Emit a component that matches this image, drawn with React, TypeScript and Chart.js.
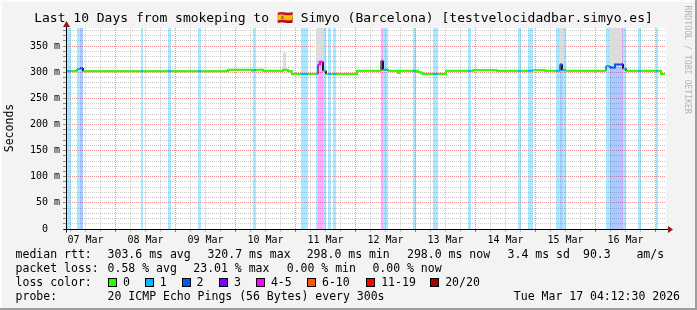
import React, { useEffect, useRef } from "react";
import { Chart, registerables } from "chart.js";

Chart.register(...registerables);

// ---------- texts ----------
const titleText =
  "Last 10 Days from smokeping to \u{1F1EA}\u{1F1F8} Simyo (Barcelona) [testvelocidadbar.simyo.es]";
const yAxisTitle = "Seconds";
const watermarkText = "RRDTOOL / TOBI OETIKER";

// ---------- x axis: hours since Tue Mar 07 04:12:30 ----------
const dayLabels = ["07 Mar", "08 Mar", "09 Mar", "10 Mar", "11 Mar", "12 Mar", "13 Mar", "14 Mar", "15 Mar", "16 Mar"];
const spanHours = 240;
const firstMidnightHour = 19.79;
const gridStepHours = 6;

// ---------- y axis (ms) ----------
const yMax = 384.84;
const yMinorStep = 10;
const yMajorStep = 50;

// ---------- median rtt runs (start hour, value ms, loss class index) ----------
const runStart = [
  0, 2.0, 4.4, 5.6, 6.8, 30.0, 30.8, 40.8, 42.0, 52.8,
  54.0, 64.8, 74.4, 74.8, 76.0, 78.8, 86.8, 88.8, 90.4, 94.0,
  96.8, 100.0, 100.8, 101.6, 102.8, 104.0, 104.8, 106.0, 106.8, 108.0,
  116.4, 126.0, 126.8, 128.8, 132.8, 133.6, 138.8, 140.0, 140.8, 142.0,
  142.8, 146.8, 148.8, 152.0, 160.8, 162.0, 162.8, 172.4, 180.8, 182.0,
  184.8, 186.8, 191.6, 196.0, 197.6, 198.4, 200.0, 216.0, 217.6, 219.6,
  222.4, 222.8, 224.0, 228.8, 230.0, 236.0, 236.8, 238.0,
];
const runValue = [
  302, 302, 306, 308, 302, 302, 302, 302, 302, 302,
  302, 305, 303, 304, 305, 303, 305, 302, 297, 297,
  297, 297, 315, 320, 303, 297, 297, 297, 297, 297,
  303, 322, 305, 303, 299, 303, 303, 303, 300, 298,
  297, 297, 297, 303, 303, 303, 304, 303, 303, 303,
  303, 304, 303, 303, 315, 304, 303, 312, 309, 315,
  316, 307, 303, 303, 303, 303, 303, 297,
];
const runLoss = [
  1, 0, 1, 2, 0, 1, 0, 1, 0, 1,
  0, 0, 0, 1, 0, 0, 0, 0, 0, 1,
  0, 1, 4, 4, 1, 0, 1, 0, 1, 0,
  0, 4, 1, 0, 0, 0, 1, 0, 0, 0,
  0, 1, 0, 0, 1, 0, 0, 0, 1, 0,
  1, 0, 0, 1, 2, 1, 0, 1, 2, 2,
  3, 1, 0, 1, 0, 1, 0, 0,
];
const runEnd = 239.6;

// ---------- smoke (ping spread) ----------
const smokeStart = [86.8, 100.0, 197.6, 217.6];
const smokeEnd = [88.0, 102.8, 198.8, 222.4];
const smokeLow = [305, 322, 318, 310];
const smokeHigh = [338, 400, 400, 400];

// ---------- legend ----------
const lossLabels = ["0", "1", "2", "3", "4-5", "6-10", "11-19", "20/20"];
const lossColors = ["#26ff00", "#00b8ff", "#0059ff", "#7e00ff", "#ff00ff", "#ff5500", "#ff0000", "#a10000"];
const rttStats = ["303.6 ms avg", "320.7 ms max", "298.0 ms min", "298.0 ms now", "3.4 ms sd", "90.3", "am/s"];
const lossStats = ["0.58 % avg", "23.01 % max", "0.00 % min", "0.00 % now"];
const probeText = "20 ICMP Echo Pings (56 Bytes) every 300s";
const stampText = "Tue Mar 17 04:12:30 2026";

// ---------- helpers ----------
const MONO = "'DejaVu Sans Mono', monospace";
function rgba(hex: string, a: number) {
  const n = parseInt(hex.slice(1), 16);
  return `rgba(${(n >> 16) & 255},${(n >> 8) & 255},${n & 255},${a})`;
}
const runEndAt = (i: number) => (i + 1 < runStart.length ? runStart[i + 1] : runEnd);

function buildDatasets() {
  const ds: any[] = [];
  // colored median per loss class (top)
  for (let c = 0; c < lossColors.length; c++) {
    const pts: any[] = [];
    for (let i = 0; i < runStart.length; i++) {
      if (runLoss[i] !== c) continue;
      if (!(i > 0 && runLoss[i - 1] === c) && pts.length) pts.push({ x: runStart[i], y: null });
      pts.push({ x: runStart[i], y: runValue[i] }, { x: runEndAt(i), y: runValue[i] });
    }
    if (!pts.length) continue;
    ds.push({ data: pts, borderColor: lossColors[c], borderWidth: 2, pointRadius: 0, fill: false, order: 1 });
  }
  // black median underneath
  const blk: any[] = [];
  for (let i = 0; i < runStart.length; i++) {
    blk.push({ x: runStart[i], y: runValue[i] }, { x: runEndAt(i), y: runValue[i] });
  }
  ds.push({ data: blk, borderColor: "#000", borderWidth: 1, pointRadius: 0, fill: false, order: 2 });
  // smoke
  const hi: any[] = [];
  const lo: any[] = [];
  for (let i = 0; i < smokeStart.length; i++) {
    hi.push({ x: smokeStart[i], y: smokeLow[i] }, { x: smokeStart[i], y: smokeHigh[i] }, { x: smokeEnd[i], y: smokeHigh[i] }, { x: smokeEnd[i], y: smokeLow[i] });
    lo.push({ x: smokeStart[i], y: smokeLow[i] }, { x: smokeStart[i], y: smokeLow[i] }, { x: smokeEnd[i], y: smokeLow[i] }, { x: smokeEnd[i], y: smokeLow[i] });
  }
  ds.push({ data: hi, borderColor: "transparent", borderWidth: 0, pointRadius: 0, fill: "+1", backgroundColor: "#dcdcdc", order: 3 });
  ds.push({ data: lo, borderColor: "transparent", borderWidth: 0, pointRadius: 0, fill: false, order: 4 });
  // loss bands
  for (let c = 1; c < lossColors.length; c++) {
    const pts: any[] = [];
    for (let i = 0; i < runStart.length; i++) {
      if (runLoss[i] !== c) continue;
      const s = runStart[i], e = runEndAt(i);
      pts.push({ x: s, y: 0 }, { x: s, y: yMax }, { x: e, y: yMax }, { x: e, y: 0 });
    }
    if (!pts.length) continue;
    ds.push({ data: pts, borderColor: "transparent", borderWidth: 0, pointRadius: 0, fill: "origin", backgroundColor: rgba(lossColors[c], 0.33), order: 5 });
  }
  return ds;
}

const MAJOR = "rgba(235,70,70,0.6)";
const MINOR = "rgba(160,160,160,0.55)";

const bgPlugin = {
  id: "bg",
  beforeDraw(chart: any) {
    const { ctx, chartArea: a } = chart;
    ctx.save();
    ctx.fillStyle = "#f3f3f3";
    ctx.fillRect(0, 0, chart.width, chart.height);
    ctx.fillStyle = "#ffffff";
    ctx.fillRect(a.left, a.top, a.right - a.left, a.bottom - a.top);
    ctx.fillStyle = "#fcfcfc";
    ctx.fillRect(0, 0, chart.width, 2);
    ctx.fillRect(0, 0, 2, chart.height);
    ctx.fillStyle = "#9e9e9e";
    ctx.fillRect(chart.width - 2, 0, 2, chart.height);
    ctx.fillRect(0, chart.height - 2, chart.width, 2);
    ctx.restore();
  },
};

function txt(ctx: CanvasRenderingContext2D, s: string, x: number, y: number, size: number, align: CanvasTextAlign = "left", color = "#000") {
  ctx.font = `${size}px ${MONO}`;
  ctx.fillStyle = color;
  ctx.textAlign = align;
  ctx.textBaseline = "middle";
  ctx.fillText(s, x, y);
}

const decoPlugin = {
  id: "deco",
  afterDraw(chart: any) {
    const { ctx, chartArea: a } = chart;
    ctx.save();
    const ax = Math.floor(a.left) + 0.5;
    const ay = Math.floor(a.bottom) + 0.5;
    ctx.strokeStyle = "#000";
    ctx.lineWidth = 1;
    ctx.beginPath();
    ctx.moveTo(ax - 3, ay);
    ctx.lineTo(a.right + 3, ay);
    ctx.moveTo(ax, ay + 3);
    ctx.lineTo(ax, a.top - 3);
    ctx.stroke();
    ctx.fillStyle = "#8b1a1a";
    ctx.beginPath();
    ctx.moveTo(a.right + 2, ay - 3.5);
    ctx.lineTo(a.right + 7, ay);
    ctx.lineTo(a.right + 2, ay + 3.5);
    ctx.closePath();
    ctx.fill();
    ctx.beginPath();
    ctx.moveTo(ax - 3.5, a.top - 1);
    ctx.lineTo(ax, a.top - 7);
    ctx.lineTo(ax + 3.5, a.top - 1);
    ctx.closePath();
    ctx.fill();

    // title (centred like rrdtool)
    txt(ctx, titleText, 343.5, 19, 13, "center");
    // y axis title
    ctx.save();
    ctx.translate(10.5, 128);
    ctx.rotate(-Math.PI / 2);
    txt(ctx, yAxisTitle, 0, 0, 11.5, "center");
    ctx.restore();
    // watermark
    ctx.save();
    ctx.translate(687, 5.5);
    ctx.rotate(Math.PI / 2);
    txt(ctx, watermarkText, 0, 0, 8.2, "left", "#b4b4b4");
    ctx.restore();

    // legend
    const L = 15.6;
    const y1 = 255, y2 = 269, y3 = 283, y4 = 297;
    txt(ctx, "median rtt:", L, y1, 11.5);
    const rttX = [107.6, 207.5, 306.7, 407, 507.6, 583, 636.4];
    rttStats.forEach((s, i) => txt(ctx, s, rttX[i], y1, 11.5));
    txt(ctx, "packet loss:", L, y2, 11.5);
    const lossX = [107.6, 193.3, 286.7, 372.4];
    lossStats.forEach((s, i) => txt(ctx, s, lossX[i], y2, 11.5));
    txt(ctx, "loss color:", L, y3, 11.5);
    const boxX = [108.4, 145.3, 182, 219.5, 256.4, 307.5, 366.7, 430.7];
    lossLabels.forEach((s, i) => {
      ctx.fillStyle = lossColors[i];
      ctx.fillRect(boxX[i], y3 - 4.5, 8, 8);
      ctx.strokeStyle = "#000";
      ctx.lineWidth = 1;
      ctx.strokeRect(Math.floor(boxX[i]) + 0.5, y3 - 4.5, 8, 8);
      txt(ctx, s, boxX[i] + 14.5, y3, 11.5);
    });
    txt(ctx, "probe:", L, y4, 11.5);
    txt(ctx, probeText, 107.6, y4, 11.5);
    txt(ctx, stampText, 680, y4, 11.5, "right");
    ctx.restore();
  },
};

function isMidnight(v: number) {
  const d = (v - firstMidnightHour) / 24;
  return Math.abs(d - Math.round(d)) < 0.01;
}

export default function App() {
  const ref = useRef<HTMLCanvasElement>(null);
  useEffect(() => {
    document.body.style.margin = "0";
    const canvas = ref.current!;
    const chart = new Chart(canvas, {
      type: "line",
      data: { datasets: buildDatasets() },
      options: {
        responsive: false,
        animation: false,
        devicePixelRatio: 1,
        layout: { padding: { left: 0, top: 28, right: 31, bottom: 0 } },
        plugins: { legend: { display: false }, tooltip: { enabled: false }, title: { display: false } },
        elements: { point: { radius: 0 }, line: { tension: 0 } },
        scales: {
          x: {
            type: "linear",
            min: 0,
            max: spanHours,
            afterBuildTicks: (scale: any) => {
              const t: any[] = [];
              for (let k = 0; ; k++) {
                const h = firstMidnightHour - 18 + k * gridStepHours;
                if (h >= spanHours) break;
                if (h > 0) t.push({ value: h });
              }
              scale.ticks = t;
            },
            afterFit: (scale: any) => {
              scale.height = 81;
            },
            ticks: {
              autoSkip: false,
              maxRotation: 0,
              minRotation: 0,
              padding: 2,
              color: "#000",
              font: { family: MONO, size: 10 },
              callback: (value: any) => {
                const d = (Number(value) - (firstMidnightHour - 12)) / 24;
                const k = Math.round(d);
                return Math.abs(d - k) < 0.01 && k >= 0 && k < dayLabels.length ? dayLabels[k] : "";
              },
            },
            grid: {
              color: (c: any) => (c.tick && isMidnight(c.tick.value) ? MAJOR : MINOR),
              tickColor: (c: any) => (c.tick && isMidnight(c.tick.value) ? "rgba(220,40,40,0.8)" : "rgba(150,150,150,0.6)"),
              tickLength: 3,
              lineWidth: 1,
            },
            border: { display: false, dash: [1, 1] },
          },
          y: {
            type: "linear",
            min: 0,
            max: yMax,
            afterBuildTicks: (scale: any) => {
              const t: any[] = [];
              for (let v = 0; v <= yMax; v += yMinorStep) t.push({ value: v });
              scale.ticks = t;
            },
            afterFit: (scale: any) => {
              scale.width = 66;
            },
            ticks: {
              autoSkip: false,
              padding: 3,
              color: "#000",
              font: { family: MONO, size: 10 },
              callback: (value: any) => {
                const v = Number(value);
                if (v % yMajorStep !== 0) return "";
                return v === 0 ? "0  " : `${v} m`;
              },
            },
            grid: {
              color: (c: any) => (c.tick && c.tick.value % yMajorStep === 0 ? MAJOR : MINOR),
              tickColor: "rgba(100,100,100,0.7)",
              tickLength: 3,
              lineWidth: 1,
            },
            border: { display: false, dash: [1, 1] },
          },
        },
      },
      plugins: [bgPlugin, decoPlugin],
    } as any);
    return () => chart.destroy();
  }, []);
  return <canvas ref={ref} width={697} height={310} style={{ display: "block", width: 697, height: 310 }} />;
}
